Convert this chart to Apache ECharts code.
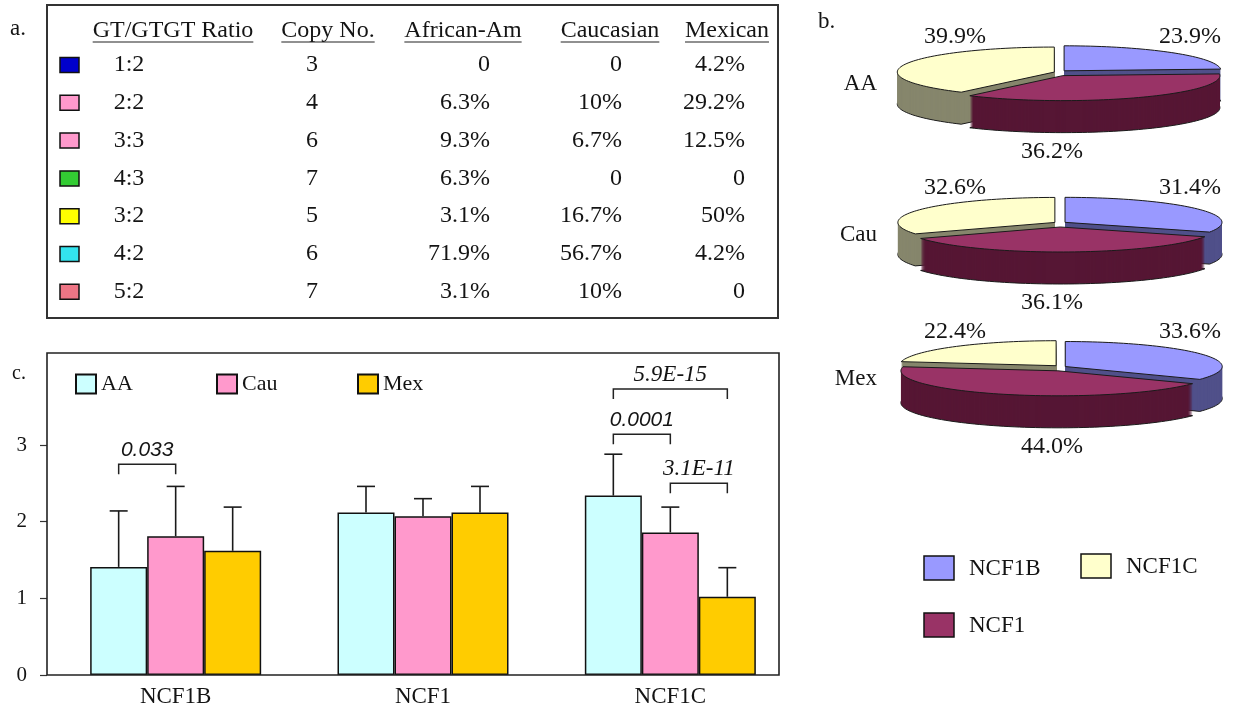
<!DOCTYPE html>
<html><head><meta charset="utf-8">
<script src="https://cdn.jsdelivr.net/npm/echarts@6/dist/echarts.min.js"></script>
<style>html,body{margin:0;padding:0;background:#fff}#c{width:1235px;height:714px}</style>
</head><body><div id="c"></div><script>
// ---------- Panel a: table ----------
const tableHeaders = ['GT/GTGT Ratio', 'Copy No.', 'African-Am', 'Caucasian', 'Mexican'];
const ratios = ['1:2', '2:2', '3:3', '4:3', '3:2', '4:2', '5:2'];
const copyNumbers = ['3', '4', '6', '7', '5', '6', '7'];
const africanAm = ['0', '6.3%', '9.3%', '6.3%', '3.1%', '71.9%', '3.1%'];
const caucasian = ['0', '10%', '6.7%', '0', '16.7%', '56.7%', '10%'];
const mexican = ['4.2%', '29.2%', '12.5%', '0', '50%', '4.2%', '0'];

// ---------- Panel b: pies ----------
const pieGroups = ['AA', 'Cau', 'Mex'];
const pieGenes = ['NCF1B', 'NCF1', 'NCF1C'];
const pieNCF1B = [23.9, 31.4, 33.6];
const pieNCF1 = [36.2, 36.1, 44.0];
const pieNCF1C = [39.9, 32.6, 22.4];

// ---------- Panel c: bars ----------
const genes = ['NCF1B', 'NCF1', 'NCF1C'];
const populations = ['AA', 'Cau', 'Mex'];
const meanAA = [1.41, 2.12, 2.34];
const meanCau = [1.81, 2.07, 1.86];
const meanMex = [1.62, 2.12, 1.02];
const sdAA = [0.73, 0.34, 0.54];
const sdCau = [0.65, 0.23, 0.33];
const sdMex = [0.57, 0.34, 0.38];
const yTicks = [0, 1, 2, 3];
const bracketGene = [0, 2, 2, 2];
const bracketFrom = [0, 0, 0, 1];
const bracketTo = [1, 1, 2, 2];
const bracketLevel = [2.75, 3.14, 3.73, 2.50];
const bracketP = ['0.033', '0.0001', '5.9E-15', '3.1E-11'];

// ---------- styles / layout ----------
const SERIF = '"Liberation Serif", "Times New Roman", serif';
const SANS = '"Liberation Sans", Arial, sans-serif';
const TXT = '#141414';
const swatchColors = ['#0000CC', '#FF99CC', '#FF99CC', '#33CC33', '#FFFF00', '#33E3EE', '#EE7585'];
const barColors = ['#CCFFFF', '#FF99CC', '#FFCC00'];
const pieTop = ['#9999FF', '#993366', '#FFFFCC'];
const pieSide = ['#50508A', '#561634', '#86866C'];
const bracketFonts = [SANS, SANS, SERIF, SERIF];
const bracketSizes = [21, 21, 23, 23];
const BAR_W = 57;
const PIE_CX = 1060, PIE_CY = [73, 224, 368], PIE_RX = 157, PIE_RY = 25, PIE_DEPTH = 32, PIE_EXP = 6;

const ctx = document.createElement('canvas').getContext('2d');
function textW(s, font) { ctx.font = font; return ctx.measureText(s).width; }

const G = [];
function txt(x, y, s, opt) {
  opt = opt || {};
  G.push({ type: 'text', x: x, y: y, silent: true, style: {
    text: s, fill: TXT, fontFamily: opt.family || SERIF, fontSize: opt.size || 24,
    fontStyle: opt.style || 'normal', align: opt.align || 'center', verticalAlign: 'middle' } });
}

// panel letters
txt(10, 29, 'a.', { align: 'left', size: 23 });
txt(818, 22, 'b.', { align: 'left', size: 23 });
txt(12, 374, 'c.', { align: 'left', size: 20 });

// Table frame
G.push({ type: 'rect', shape: { x: 47, y: 5, width: 731, height: 313 }, style: { fill: 'none', stroke: '#333', lineWidth: 2 } });
const colCX = [173, 328, 463, 610, 727];
tableHeaders.forEach((h, j) => {
  txt(colCX[j], 31, h);
  const w = textW(h, '24px ' + SERIF);
  G.push({ type: 'line', shape: { x1: colCX[j] - w / 2, y1: 42, x2: colCX[j] + w / 2, y2: 42 }, style: { stroke: '#222', lineWidth: 1.2 } });
});
ratios.forEach((r, i) => {
  const y = 65 + i * 37.8;
  G.push({ type: 'rect', shape: { x: 60, y: y - 7.5, width: 19, height: 15 }, style: { fill: swatchColors[i], stroke: '#111', lineWidth: 1.5 } });
  txt(129, y, r);
  txt(312, y, copyNumbers[i]);
  txt(490, y, africanAm[i], { align: 'right' });
  txt(622, y, caucasian[i], { align: 'right' });
  txt(745, y, mexican[i], { align: 'right' });
});

// Pie legend (panel b)
const pieLegendPos = [[924, 556], [924, 613], [1081, 554]];
pieGenes.forEach((g, k) => {
  const p = pieLegendPos[k];
  G.push({ type: 'rect', shape: { x: p[0], y: p[1], width: 30, height: 24 }, style: { fill: pieTop[k], stroke: '#111', lineWidth: 1.5 } });
  txt(p[0] + 45, p[1] + 13, g, { align: 'left', size: 23 });
});

// Panel c frame
G.push({ type: 'rect', z: 10, shape: { x: 47, y: 353, width: 732, height: 322 }, style: { fill: 'none', stroke: '#222', lineWidth: 1.6 } });

// ---------- pie custom render ----------
function ellPts(cx, cy, a0, a1) {
  const pts = [[cx, cy]];
  const n = Math.max(2, Math.ceil((a1 - a0) / 2));
  for (let j = 0; j <= n; j++) {
    const t = (a0 + (a1 - a0) * j / n) * Math.PI / 180;
    pts.push([cx + PIE_RX * Math.sin(t), cy - PIE_RY * Math.cos(t)]);
  }
  return pts;
}
function renderPie(params, api) {
  const i = params.dataIndex;
  const vals = [api.value(0), api.value(1), api.value(2)];
  const tot = vals[0] + vals[1] + vals[2];
  const cx = PIE_CX, cy = PIE_CY[i];
  let a = 0; const sl = [];
  vals.forEach((v, k) => {
    const a0 = a, a1 = a + v / tot * 360; a = a1;
    const m = (a0 + a1) / 2 * Math.PI / 180;
    sl.push({ a0, a1, k, v, dx: PIE_EXP * Math.sin(m), dy: -PIE_EXP * 0.5 * Math.cos(m) });
  });
  const ch = [];
  sl.forEach(s => ch.push({ type: 'polygon', shape: { points: ellPts(cx + s.dx, cy + s.dy + PIE_DEPTH, s.a0, s.a1) }, style: { fill: pieSide[s.k], stroke: '#1a1a1a', lineWidth: 1 } }));
  for (let d = PIE_DEPTH - 1; d >= 1; d--) {
    sl.forEach(s => ch.push({ type: 'polygon', shape: { points: ellPts(cx + s.dx, cy + s.dy + d, s.a0, s.a1) }, style: { fill: pieSide[s.k] } }));
  }
  sl.forEach(s => ch.push({ type: 'polygon', shape: { points: ellPts(cx + s.dx, cy + s.dy, s.a0, s.a1) }, style: { fill: pieTop[s.k], stroke: '#1a1a1a', lineWidth: 1 } }));
  const labPos = [[cx + 130, cy - 36], [cx - 8, cy + 79], [cx - 105, cy - 36]];
  sl.forEach(s => ch.push({ type: 'text', x: labPos[s.k][0], y: labPos[s.k][1], style: { text: s.v.toFixed(1) + '%', fill: TXT, fontFamily: SERIF, fontSize: 24, align: 'center', verticalAlign: 'middle' } }));
  ch.push({ type: 'text', x: 877, y: cy + 11, style: { text: pieGroups[i], fill: TXT, fontFamily: SERIF, fontSize: 23, align: 'right', verticalAlign: 'middle' } });
  return { type: 'group', children: ch };
}

// ---------- bar helpers ----------
const means = [meanAA, meanCau, meanMex];
const sds = [sdAA, sdCau, sdMex];
const errData = [];
means.forEach((m, s) => m.forEach((v, c) => errData.push([c, v, v + sds[s][c], s])));
const bracketData = bracketGene.map((g, i) => [g, bracketFrom[i], bracketTo[i], bracketLevel[i]]);

function renderErr(params, api) {
  const top = api.coord([api.value(0), api.value(2)]);
  const base = api.coord([api.value(0), api.value(1)]);
  const x = top[0] + (api.value(3) - 1) * BAR_W;
  const st = { stroke: '#1a1a1a', lineWidth: 1.6 };
  return { type: 'group', children: [
    { type: 'line', shape: { x1: x, y1: base[1], x2: x, y2: top[1] }, style: st },
    { type: 'line', shape: { x1: x - 9, y1: top[1], x2: x + 9, y2: top[1] }, style: st }
  ] };
}
function renderBracket(params, api) {
  const i = params.dataIndex;
  const p = api.coord([api.value(0), api.value(3)]);
  const x1 = p[0] + (api.value(1) - 1) * BAR_W, x2 = p[0] + (api.value(2) - 1) * BAR_W;
  const y = p[1];
  return { type: 'group', children: [
    { type: 'polyline', shape: { points: [[x1, y + 10], [x1, y], [x2, y], [x2, y + 10]] }, style: { stroke: '#222', lineWidth: 1.5, fill: 'none' } },
    { type: 'text', x: (x1 + x2) / 2, y: y - 14, style: { text: bracketP[i], fill: TXT, fontFamily: bracketFonts[i], fontSize: bracketSizes[i], fontStyle: 'italic', align: 'center', verticalAlign: 'middle' } }
  ] };
}

const chart = echarts.init(document.getElementById('c'));
chart.setOption({
  animation: false,
  backgroundColor: '#fff',
  graphic: G,
  legend: populations.map((p, i) => ({
    data: [p], left: 70 + 141 * i, top: 368, icon: 'rect', itemWidth: 20, itemHeight: 19,
    textStyle: { fontFamily: SERIF, fontSize: 22, color: TXT }, selectedMode: false
  })),
  grid: { left: 52, right: 441, top: 353, bottom: 39 },
  xAxis: { type: 'category', data: genes, axisLine: { show: false }, axisTick: { show: false },
    axisLabel: { fontFamily: SERIF, fontSize: 23, color: TXT, margin: 10 } },
  yAxis: { type: 'value', min: 0, max: 4.2, interval: 1, offset: 5, axisLine: { show: false },
    axisTick: { show: true, length: 7, customValues: yTicks, lineStyle: { color: '#333', width: 1.2 } },
    axisLabel: { customValues: yTicks, margin: 20, fontFamily: SERIF, fontSize: 21, color: TXT },
    splitLine: { show: false } },
  series: [
    ...populations.map((p, s) => ({
      type: 'bar', name: p, data: means[s], barWidth: BAR_W, barGap: '0%',
      itemStyle: { color: barColors[s], borderColor: '#111', borderWidth: 1.5 }
    })),
    { type: 'custom', coordinateSystem: 'cartesian2d', data: errData, renderItem: renderErr, z: 5, silent: true },
    { type: 'custom', coordinateSystem: 'cartesian2d', data: bracketData, renderItem: renderBracket, z: 5, silent: true },
    { type: 'custom', coordinateSystem: 'none', data: pieGroups.map((g, i) => ({ name: g, value: [pieNCF1B[i], pieNCF1[i], pieNCF1C[i]] })), renderItem: renderPie, silent: true }
  ]
});
</script></body></html>
